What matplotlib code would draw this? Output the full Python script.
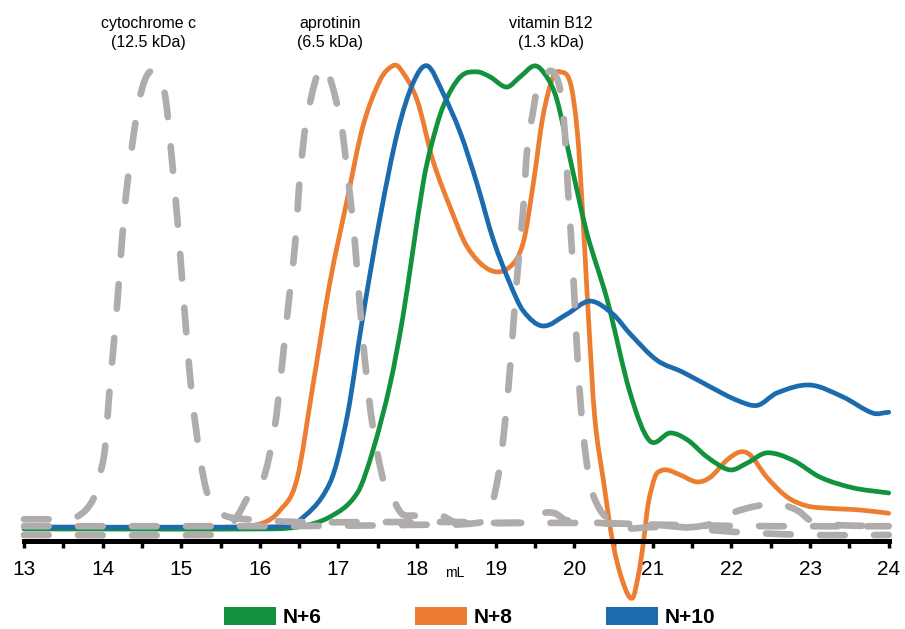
import numpy as np
import matplotlib
matplotlib.use("Agg")
import matplotlib.pyplot as plt
from matplotlib.patches import Patch, PathPatch
from matplotlib.path import Path
from matplotlib.ticker import MultipleLocator

plt.rcParams['font.family'] = ['Liberation Sans', 'DejaVu Sans']

# elution volume (mL) / normalised absorbance
n6_x = [13.0, 16.0, 16.47, 16.89, 17.24, 17.44, 17.66, 17.82, 17.95, 18.08, 18.17, 18.33,
        18.55, 18.76, 18.93, 19.14, 19.31, 19.50, 19.65, 19.78, 19.95, 20.16, 20.42,
        20.71, 20.96, 21.22, 21.44, 21.69, 21.98, 22.20, 22.45, 22.78, 23.13, 23.55, 24.0]
n6_y = [-0.004, -0.004, 0.0, 0.022, 0.074, 0.167, 0.312, 0.456, 0.603, 0.748, 0.820, 0.911,
        0.976, 0.987, 0.976, 0.954, 0.976, 1.0, 0.976, 0.926, 0.796, 0.638, 0.492,
        0.291, 0.187, 0.204, 0.189, 0.152, 0.124, 0.139, 0.161, 0.145, 0.108, 0.085, 0.074]

n8_x = [13.0, 15.7, 16.04, 16.25, 16.47, 16.68, 16.89, 17.11, 17.31, 17.53, 17.69, 17.78,
        18.00, 18.20, 18.42, 18.64, 18.93, 19.18, 19.35, 19.48, 19.60, 19.73, 19.82, 19.95,
        20.04, 20.11, 20.18, 20.26, 20.37, 20.49, 20.62, 20.74, 20.82, 20.88, 20.94, 21.03,
        21.10, 21.18, 21.35, 21.56, 21.73, 21.94, 22.11, 22.24, 22.45, 22.71, 22.96, 23.22,
        23.64, 24.0]
n8_y = [0.0, 0.0, 0.009, 0.035, 0.102, 0.312, 0.529, 0.709, 0.868, 0.969, 1.0, 0.995,
        0.926, 0.796, 0.694, 0.607, 0.557, 0.564, 0.616, 0.746, 0.889, 0.976, 0.987, 0.963,
        0.855, 0.672, 0.456, 0.239, 0.102, -0.033, -0.12, -0.154, -0.10, -0.033, 0.05, 0.11,
        0.122, 0.124, 0.113, 0.098, 0.108, 0.145, 0.163, 0.156, 0.108, 0.065, 0.046, 0.041,
        0.037, 0.030]

n10_x = [13.0, 16.0, 16.3, 16.47, 16.89, 17.11, 17.31, 17.53, 17.75, 17.95, 18.13, 18.33,
         18.55, 18.76, 18.97, 19.18, 19.35, 19.60, 19.91, 20.20, 20.49, 20.71, 21.05,
         21.38, 21.73, 22.07, 22.33, 22.58, 23.00, 23.42, 23.80, 24.0]
n10_y = [0.0, 0.0, 0.002, 0.009, 0.095, 0.239, 0.456, 0.672, 0.855, 0.963, 1.0, 0.941,
         0.855, 0.746, 0.623, 0.529, 0.469, 0.436, 0.462, 0.49, 0.462, 0.419, 0.362,
         0.336, 0.304, 0.275, 0.264, 0.291, 0.308, 0.282, 0.247, 0.249]

# standards (dashed grey)
cyt_x = [13.0, 13.5, 13.7, 13.88, 13.96, 14.03, 14.09, 14.16, 14.22, 14.28, 14.37, 14.46,
         14.54, 14.63, 14.72, 14.80, 14.88, 14.95, 15.01, 15.07, 15.14, 15.24, 15.32, 15.40,
         15.50, 15.66, 16.5, 17.5, 18.5, 19.4, 19.6, 19.75, 19.9, 20.5, 21.5, 22.5, 24.0]
cyt_y = [0.017, 0.018, 0.025, 0.06, 0.11, 0.17, 0.30, 0.43, 0.56, 0.69, 0.82, 0.92,
         0.97, 0.99, 0.975, 0.93, 0.80, 0.67, 0.54, 0.41, 0.28, 0.15, 0.08, 0.05,
         0.03, 0.02, 0.011, 0.011, 0.011, 0.011, 0.03, 0.03, 0.015, 0.008, 0.004, 0.002, 0.002]

apr_x = [13.0, 15.3, 15.55, 15.7, 15.88, 16.04, 16.19, 16.28, 16.36, 16.45, 16.51, 16.60,
         16.80, 17.02, 17.12, 17.21, 17.27, 17.34, 17.43, 17.57, 17.66, 17.80, 17.95,
         18.3, 18.5, 19.0, 20.0, 21.0, 22.0, 23.0, 24.0]
apr_y = [-0.017, -0.017, -0.01, 0.02, 0.074, 0.102, 0.217, 0.347, 0.477, 0.616, 0.759, 0.889,
         0.998, 0.889, 0.759, 0.616, 0.486, 0.356, 0.226, 0.102, 0.074, 0.03, 0.025,
         0.025, 0.01, 0.009, 0.009, 0.005, -0.01, -0.017, -0.017]

b12_x = [13.0, 16.0, 17.0, 18.0, 18.8, 18.9, 18.97, 19.03, 19.08, 19.16, 19.22, 19.28,
         19.35, 19.40, 19.48, 19.53, 19.62, 19.73, 19.82, 19.88, 19.92, 19.97, 20.01,
         20.05, 20.11, 20.20, 20.33, 20.46, 20.6, 21.0, 21.5, 21.8, 22.0, 22.3, 22.6,
         22.85, 23.0, 23.3, 24.0]
b12_y = [0.002, 0.002, 0.003, 0.005, 0.01, 0.03, 0.06, 0.108, 0.167, 0.297, 0.427, 0.557,
         0.688, 0.818, 0.905, 0.954, 0.98, 0.987, 0.948, 0.855, 0.731, 0.601, 0.471,
         0.341, 0.210, 0.095, 0.037, 0.015, -0.002, 0.0, 0.0, 0.01, 0.03, 0.045, 0.05,
         0.035, 0.015, 0.005, 0.002]

labels = ["N+6", "N+8", "N+10"]
colors = ["#13923E", "#ED7D31", "#1B6BAE"]
gray = "#B0ACAC"


def smooth_path(xs, ys):
    # smoothed line (like a spreadsheet "smooth line") through the read points
    x = np.asarray(xs, float)
    y = np.asarray(ys, float)
    m = np.empty(len(x))
    m[1:-1] = (y[2:] - y[:-2]) / (x[2:] - x[:-2])
    m[0] = (y[1] - y[0]) / (x[1] - x[0])
    m[-1] = (y[-1] - y[-2]) / (x[-1] - x[-2])
    verts = [(x[0], y[0])]
    codes = [Path.MOVETO]
    for i in range(len(x) - 1):
        h = x[i + 1] - x[i]
        verts += [(x[i] + h / 3, y[i] + m[i] * h / 3),
                  (x[i + 1] - h / 3, y[i + 1] - m[i + 1] * h / 3),
                  (x[i + 1], y[i + 1])]
        codes += [Path.CURVE4] * 3
    return Path(verts, codes)


fig = plt.figure(figsize=(9.05, 6.29), dpi=100)
ax = fig.add_axes([0.0265, 0.140, 0.9555, 0.792])

for sx, sy, c in [(n8_x, n8_y, colors[1]), (n6_x, n6_y, colors[0]), (n10_x, n10_y, colors[2])]:
    p = PathPatch(smooth_path(sx, sy), facecolor='none', edgecolor=c, lw=3.4,
                  clip_on=False, zorder=3, capstyle='round', joinstyle='round')
    ax.add_patch(p)

for sx, sy in [(cyt_x, cyt_y), (apr_x, apr_y), (b12_x, b12_y)]:
    p = PathPatch(smooth_path(sx, sy), facecolor='none', edgecolor=gray, lw=4.8,
                  clip_on=False, zorder=4, capstyle='round', linestyle=(0, (3.7, 4.4)))
    ax.add_patch(p)

ax.set_xlim(13, 24)
ax.set_ylim(-0.030, 1.05)
for s in ['top', 'right', 'left']:
    ax.spines[s].set_visible(False)
ax.spines['bottom'].set_linewidth(3.6)
ax.spines['bottom'].set_zorder(5)
ax.set_yticks([])
ax.xaxis.set_major_locator(MultipleLocator(1))
ax.xaxis.set_minor_locator(MultipleLocator(0.5))
ax.tick_params(axis='x', which='both', direction='out', length=5, width=2.5, color='black')
ax.tick_params(axis='x', which='major', labelsize=15, pad=9)
ax.text(18.48, -0.10, "mL", ha='center', va='center', fontsize=10)

ann = [(14.58, "cytochrome c\n(12.5 kDa)"), (16.89, "aprotinin\n(6.5 kDa)"),
       (19.70, "vitamin B12\n(1.3 kDa)")]
for xa, t in ann:
    ax.text(xa, 1.020, t, transform=ax.get_xaxis_transform(), ha='center', va='center',
            fontsize=11.5, linespacing=1.35)

handles = [Patch(facecolor=c, edgecolor='none') for c in colors]
leg = fig.legend(handles, labels, loc='center', bbox_to_anchor=(0.519, 0.019), ncol=3,
                 frameon=False, handlelength=2.5, handleheight=0.95, handletextpad=0.3,
                 columnspacing=4.5, borderpad=0,
                 prop={'size': 15, 'weight': 'bold'})

fig.savefig("out.png", dpi=100)
